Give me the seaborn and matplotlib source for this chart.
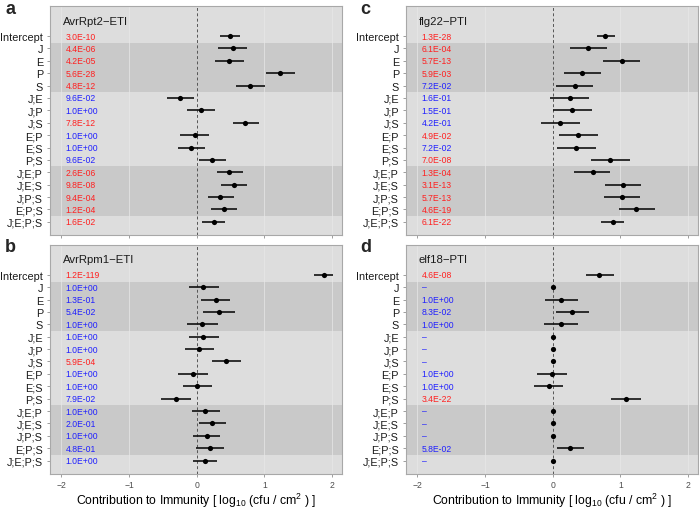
import numpy as np
import pandas as pd
import matplotlib
matplotlib.use("Agg")
import matplotlib.pyplot as plt
import seaborn as sns

sns.set_theme(style="white")
plt.rcParams['font.family'] = ['Liberation Sans', 'DejaVu Sans']
plt.rcParams['mathtext.fontset'] = 'custom'
plt.rcParams['mathtext.rm'] = 'Liberation Sans'
plt.rcParams['mathtext.it'] = 'Liberation Sans:italic'

terms = ["Intercept", "J", "E", "P", "S", "J;E", "J;P", "J;S", "E;P", "E;S",
         "P;S", "J;E;P", "J;E;S", "J;P;S", "E;P;S", "J;E;P;S"]

titles = ["AvrRpt2\u2212ETI", "AvrRpm1\u2212ETI", "flg22\u2212PTI", "elf18\u2212PTI"]
letters = ["a", "b", "c", "d"]

a_est = [0.49, 0.53, 0.48, 1.24, 0.79, -0.24, 0.06, 0.72, -0.03, -0.08, 0.23, 0.48, 0.55, 0.35, 0.41, 0.25]
a_lo = [0.35, 0.32, 0.27, 1.03, 0.58, -0.44, -0.14, 0.53, -0.24, -0.28, 0.03, 0.30, 0.36, 0.17, 0.21, 0.08]
a_hi = [0.64, 0.75, 0.70, 1.46, 1.01, -0.04, 0.27, 0.92, 0.18, 0.13, 0.44, 0.68, 0.74, 0.55, 0.60, 0.42]
a_p = ["3.0E-10", "4.4E-06", "4.2E-05", "5.6E-28", "4.8E-12", "9.6E-02", "1.0E+00", "7.8E-12",
       "1.0E+00", "1.0E+00", "9.6E-02", "2.6E-06", "9.8E-08", "9.4E-04", "1.2E-04", "1.6E-02"]

b_est = [1.88, 0.10, 0.28, 0.33, 0.08, 0.10, 0.04, 0.44, -0.05, 0.01, -0.31, 0.13, 0.23, 0.15, 0.20, 0.12]
b_lo = [1.74, -0.12, 0.06, 0.10, -0.15, -0.11, -0.17, 0.22, -0.27, -0.20, -0.53, -0.07, 0.03, -0.06, -0.01, -0.05]
b_hi = [2.02, 0.33, 0.50, 0.57, 0.31, 0.33, 0.26, 0.65, 0.17, 0.23, -0.08, 0.34, 0.44, 0.35, 0.41, 0.30]
b_p = ["1.2E-119", "1.0E+00", "1.3E-01", "5.4E-02", "1.0E+00", "1.0E+00", "1.0E+00", "5.9E-04",
       "1.0E+00", "1.0E+00", "7.9E-02", "1.0E+00", "2.0E-01", "1.0E+00", "4.8E-01", "1.0E+00"]

c_est = [0.78, 0.52, 1.02, 0.44, 0.33, 0.25, 0.28, 0.11, 0.38, 0.35, 0.85, 0.59, 1.04, 1.02, 1.24, 0.89]
c_lo = [0.65, 0.26, 0.75, 0.17, 0.05, -0.04, 0.00, -0.18, 0.09, 0.06, 0.56, 0.32, 0.77, 0.76, 0.98, 0.71]
c_hi = [0.92, 0.80, 1.29, 0.71, 0.60, 0.54, 0.58, 0.40, 0.67, 0.64, 1.15, 0.85, 1.31, 1.29, 1.51, 1.06]
c_p = ["1.3E-28", "6.1E-04", "5.7E-13", "5.9E-03", "7.2E-02", "1.6E-01", "1.5E-01", "4.2E-01",
       "4.9E-02", "7.2E-02", "7.0E-08", "1.3E-04", "3.1E-13", "5.7E-13", "4.6E-19", "6.1E-22"]

nan = np.nan
d_est = [0.69, 0.0, 0.13, 0.29, 0.12, 0.0, 0.0, 0.0, -0.01, -0.05, 1.08, 0.0, 0.0, 0.0, 0.26, 0.0]
d_lo = [0.49, nan, -0.11, 0.05, -0.13, nan, nan, nan, -0.23, -0.27, 0.87, nan, nan, nan, 0.06, nan]
d_hi = [0.91, nan, 0.38, 0.54, 0.37, nan, nan, nan, 0.21, 0.16, 1.30, nan, nan, nan, 0.46, nan]
d_p = ["4.6E-08", "\u2013", "1.0E+00", "8.3E-02", "1.0E+00", "\u2013", "\u2013", "\u2013",
       "1.0E+00", "1.0E+00", "3.4E-22", "\u2013", "\u2013", "\u2013", "5.8E-02", "\u2013"]

panels = [
    (a_est, a_lo, a_hi, a_p),
    (b_est, b_lo, b_hi, b_p),
    (c_est, c_lo, c_hi, c_p),
    (d_est, d_lo, d_hi, d_p),
]

W, H = 700, 510
fig = plt.figure(figsize=(7.0, 5.1), dpi=100)

# pixel boxes (left, top, right, bottom)
boxes = [(50, 7.3, 342, 236), (50, 246, 342, 474.7),
         (406, 7.3, 698, 236), (406, 246, 698, 474.7)]
letter_pos = [(5, 1), (5, 239), (360, 1), (360, 239)]

LIGHT = "#DDDDDD"
DARK = "#C9C9C9"

for i, (est, lo, hi, pv) in enumerate(panels):
    l, t, r, b = boxes[i]
    ax = fig.add_axes([l / W, 1 - b / H, (r - l) / W, (b - t) / H])
    ax.set_facecolor(LIGHT)
    pos = np.arange(1, len(terms) + 1)
    df = pd.DataFrame({"term": terms, "pos": pos, "est": est, "lo": lo, "hi": hi, "p": pv})

    ax.axhspan(1.6, 5.55, color=DARK, lw=0, zorder=0)
    ax.axhspan(11.5, 15.55, color=DARK, lw=0, zorder=0)
    for xv in [-2, -1, 1, 2]:
        ax.axvline(xv, color="#E8E8E8", lw=0.5, zorder=0.5)
    ax.axvline(0, color="#555555", lw=0.7, ls=(0, (3, 2.5)), zorder=1)

    m = df["lo"].notna()
    ax.hlines(df.loc[m, "pos"], df.loc[m, "lo"], df.loc[m, "hi"], color="#111111", lw=1.2, zorder=2)
    sns.scatterplot(data=df, x="est", y="pos", ax=ax, color="black", s=14,
                    edgecolor="black", linewidth=0, zorder=3, legend=False)

    for _, row in df.iterrows():
        txt = row["p"]
        if txt.startswith("\u2013"):
            col = "#2020FF"
        else:
            col = "#FF2020" if float(txt) < 0.05 else "#2020FF"
        ax.text(-1.94, row["pos"], txt, color=col, fontsize=6.2, va="center", ha="left", zorder=4)

    ax.text(-1.98, -0.25, titles[i], fontsize=8.2, color="#1A1A1A", va="center", ha="left")

    ax.set_xlim(-2.17, 2.15)
    ax.set_ylim(17.06, -1.4)
    ax.set_yticks(pos)
    ax.set_yticklabels(terms, fontsize=7.8, color="#1A1A1A")
    ax.set_xticks([-2, -1, 0, 1, 2])
    ax.set_xticklabels(["\u22122", "\u22121", "0", "1", "2"], fontsize=6.2, color="#4D4D4D")
    ax.tick_params(axis="both", which="both", length=2.5, width=0.5, color="#777777", pad=2.5,
                   left=True, bottom=True)
    ax.tick_params(axis="x", pad=2)
    if i in (0, 2):
        ax.tick_params(axis="x", labelbottom=False)
    for s in ax.spines.values():
        s.set_color("#A8A8A8")
        s.set_linewidth(0.8)
    ax.set_ylabel("")
    ax.set_xlabel("")
    if i in (1, 3):
        fig.text((l + r) / 2 / W, 1 - 501 / H,
                 "Contribution to Immunity [ log$_{10}$ (cfu / cm$^2$ ) ]",
                 fontsize=8.8, color="black", ha="center", va="center")

    lx, ly = letter_pos[i]
    fig.text(lx / W, 1 - ly / H, letters[i], fontsize=13, fontweight="bold", va="top", ha="left")

fig.savefig("out.png", dpi=100, facecolor="white")
